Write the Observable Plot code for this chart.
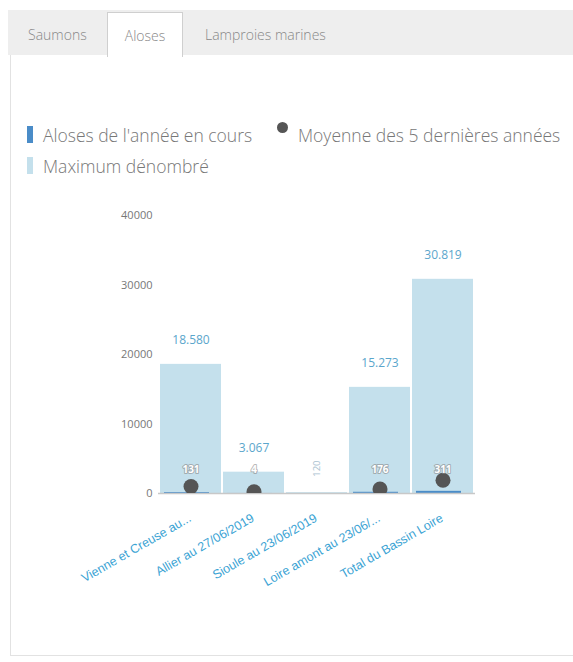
<!DOCTYPE html>
<html>
<head>
<meta charset="utf-8">
<script src="https://cdn.jsdelivr.net/npm/d3@7"></script>
<script src="https://cdn.jsdelivr.net/npm/@observablehq/plot@0.6"></script>
<style>
  html, body { margin: 0; padding: 0; background: #fff; width: 573px; height: 662px; overflow: hidden; font-family: "Open Sans", sans-serif; }
  #tabbar { position: absolute; left: 8px; top: 10px; width: 570px; height: 45px; background: #eeeeee; }
  .tab { position: absolute; top: 0; height: 45px; line-height: 50px; font-size: 14px; font-weight: 300; color: #888; }
  #tabActive { position: absolute; left: 107px; top: 12px; width: 76px; height: 45px; background: #fff; border: 1px solid #cfcfcf; border-bottom: none; box-sizing: border-box; text-align: center; line-height: 46px; font-size: 14px; font-weight: 300; color: #888; }
  #panel { position: absolute; left: 10px; top: 55px; width: 600px; height: 600px; border-left: 1px solid #e2e2e2; border-bottom: 1px solid #e2e2e2; }
  .leg { position: absolute; font-size: 17.5px; font-weight: 300; color: #777; white-space: nowrap; line-height: 22px; }
  .sw { position: absolute; }
  #chart { position: absolute; left: 0; top: 195px; }
</style>
</head>
<body>
<div id="tabbar">
  <div class="tab" style="left:20px">Saumons</div>
  <div class="tab" style="left:197px">Lamproies marines</div>
</div>
<div id="tabActive">Aloses</div>
<div id="panel"></div>
<div id="legend"></div>
<div id="chart"></div>
<script>
const categories = ["Vienne et Creuse au...", "Allier au 27/06/2019", "Sioule au 23/06/2019", "Loire amont au 23/06/...", "Total du Bassin Loire"];
const maxCounted = [18580, 3067, 120, 15273, 30819];
const currentYear = [131, 4, null, 176, 311];
const average5 = [1000, 250, null, 650, 1900];
const yTicks = [0, 10000, 20000, 30000, 40000];
const legendLabels = ["Aloses de l'année en cours", "Moyenne des 5 dernières années", "Maximum dénombré"];

const colorCurrent = "#4a8cc8";
const colorMax = "#c4e0ec";
const colorAvg = "#555555";

// legend
const legend = document.getElementById("legend");
legend.innerHTML = `
  <div class="sw" style="left:27px;top:126px;width:6px;height:17px;background:${colorCurrent}"></div>
  <div class="leg" style="left:43px;top:124px">${legendLabels[0]}</div>
  <div class="sw" style="left:277px;top:122px;width:11px;height:11px;border-radius:50%;background:${colorAvg}"></div>
  <div class="leg" style="left:298px;top:124px">${legendLabels[1]}</div>
  <div class="sw" style="left:27px;top:157px;width:6px;height:17px;background:${colorMax}"></div>
  <div class="leg" style="left:43px;top:155px">${legendLabels[2]}</div>
`;

const data = categories.map((c, i) => ({cat: c, max: maxCounted[i], cur: currentYear[i], avg: average5[i]}));
const fr = d3.formatLocale({decimal: ",", thousands: ".", grouping: [3], currency: ["", ""]}).format(",");

const chart = Plot.plot({
  width: 573,
  height: 400,
  marginLeft: 158,
  marginRight: 98,
  marginTop: 20,
  marginBottom: 102,
  style: {fontFamily: "Open Sans, sans-serif", background: "transparent"},
  x: {domain: categories, padding: 0.03, axis: null},
  y: {domain: [0, 40000], axis: null},
  marks: [
    Plot.gridY(yTicks, {stroke: "#e6e6e6", strokeOpacity: 1, x1: 160}),
    Plot.axisY(yTicks, {tickSize: 0, tickPadding: 6, tickFormat: d3.format("d"), fill: "#777", fontSize: 11, label: null}),
    Plot.barY(data, {x: "cat", y: "max", fill: colorMax}),
    Plot.barY(data.filter(d => d.cur != null), {x: "cat", y: "cur", fill: colorCurrent, insetLeft: 4, insetRight: 12}),
    Plot.ruleY([0], {stroke: "#c8c8c8", strokeWidth: 1.5}),
    Plot.dot(data.filter(d => d.avg != null), {x: "cat", y: "avg", r: 7.5, fill: colorAvg, clip: true}),
    Plot.text(data.filter(d => d.max >= 1000), {x: "cat", y: "max", text: d => fr(d.max), dy: -24, fill: "#5ba6cc", fontSize: 12}),
    Plot.text(data.filter(d => d.max < 1000), {x: "cat", y: "max", text: d => fr(d.max), dy: -24, rotate: -90, fill: "#aac2d0", fontSize: 9.5}),
    Plot.text(data.filter(d => d.cur != null), {x: "cat", y: 0, text: d => fr(d.cur), dy: -24, fill: "#ffffff", stroke: "#8a8a8a", strokeWidth: 2, strokeOpacity: 0.6, fontSize: 10, fontWeight: "bold"}),
    Plot.text(data, {x: "cat", frameAnchor: "bottom", text: "cat", textAnchor: "end", rotate: -30, dy: 27, dx: 1, fill: "#3aa3d4", fontSize: 12.5, fontFamily: "Liberation Sans, Arial, sans-serif"})
  ]
});
document.getElementById("chart").appendChild(chart);
</script>
</body>
</html>
